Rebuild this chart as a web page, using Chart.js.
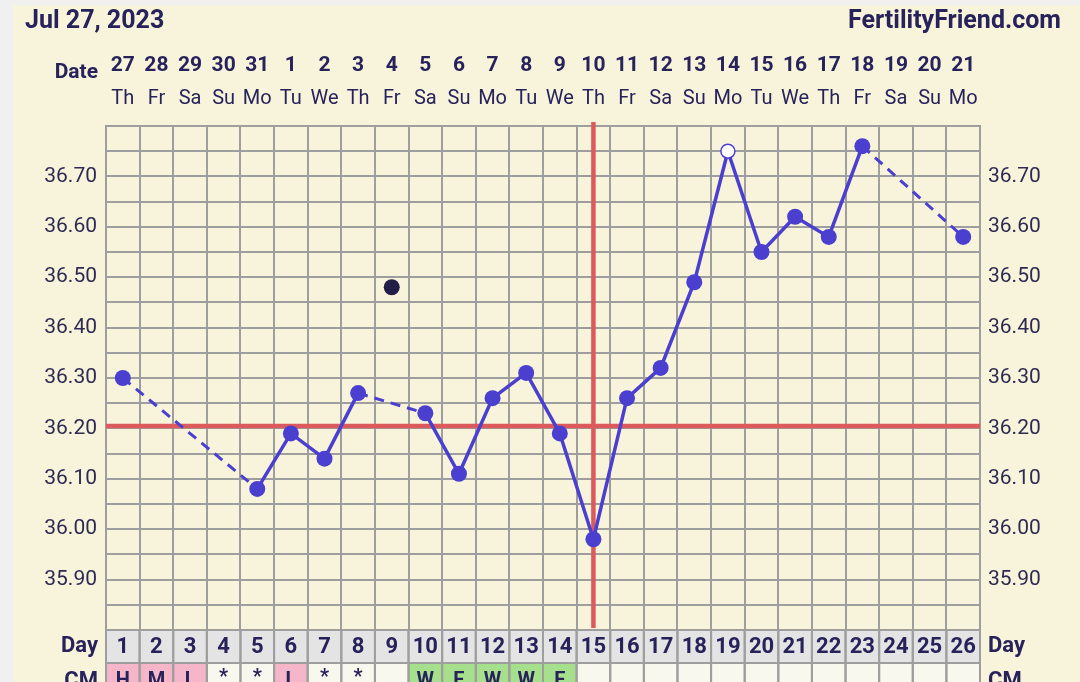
<!DOCTYPE html>
<html><head><meta charset="utf-8">
<script src="https://cdn.jsdelivr.net/npm/chart.js@4/dist/chart.umd.min.js"></script>
<style>html,body{margin:0;padding:0;background:#f0f0f0;}canvas{display:block;}</style>
</head><body>
<canvas id="c" width="1080" height="682"></canvas>
<script>
const cycleDays = ['1','2','3','4','5','6','7','8','9','10','11','12','13','14','15','16','17','18','19','20','21','22','23','24','25','26'];
const dates = ['27','28','29','30','31','1','2','3','4','5','6','7','8','9','10','11','12','13','14','15','16','17','18','19','20','21'];
const weekdays = ['Th','Fr','Sa','Su','Mo','Tu','We','Th','Fr','Sa','Su','Mo','Tu','We','Th','Fr','Sa','Su','Mo','Tu','We','Th','Fr','Sa','Su','Mo'];
const temps = [36.30,null,null,null,36.08,36.19,36.14,36.27,null,36.23,36.11,36.26,36.31,36.19,35.98,36.26,36.32,36.49,36.75,36.55,36.62,36.58,36.76,null,null,36.58];
const excludedTemps = [null,null,null,null,null,null,null,null,36.48,null,null,null,null,null,null,null,null,null,null,null,null,null,null,null,null,null];
const cervicalMucus = ['H','M','L','*','*','L','*','*','','W','E','W','W','E','','','','','','','','','','','',''];
const openPointDays = ['19'];
const coverline = 36.205;
const ovulationDay = '15';
const titleDate = 'Jul 27, 2023';
const siteName = 'FertilityFriend.com';

const NAVY = '#27225a';
const BLUE = '#4a3fcf';
const RED = '#dc5a5c';
const GRID = '#9e9e9e';
const CREAM = '#f8f4dc';

const cmColor = v => (v === 'H' || v === 'M' || v === 'L') ? '#f4b6c8' : (v === 'W' || v === 'E') ? '#a6e08c' : '#f9f8ef';
const isGap = c => !!(c.p0.skip || c.p1.skip);

const decor = {
  id: 'decor',
  beforeDraw(chart) {
    const ctx = chart.ctx;
    ctx.save();
    ctx.fillStyle = '#f0f0f0';
    ctx.fillRect(0, 0, chart.width, chart.height);
    ctx.fillStyle = CREAM;
    ctx.fillRect(13, 5, chart.width - 13, chart.height - 5);
    ctx.restore();
  },
  beforeDatasetsDraw(chart) {
    const ctx = chart.ctx, x = chart.scales.x, y = chart.scales.y, a = chart.chartArea;
    ctx.save();
    ctx.strokeStyle = RED;
    ctx.lineWidth = 4.5;
    const cy = y.getPixelForValue(coverline);
    ctx.beginPath(); ctx.moveTo(a.left, cy); ctx.lineTo(a.right, cy); ctx.stroke();
    const ox = x.getPixelForValue(cycleDays.indexOf(ovulationDay));
    ctx.beginPath(); ctx.moveTo(ox, a.top - 4); ctx.lineTo(ox, a.bottom - 2); ctx.stroke();
    ctx.restore();
  },
  afterDraw(chart) {
    const ctx = chart.ctx, x = chart.scales.x, a = chart.chartArea;
    const w = (a.right - a.left) / cycleDays.length;
    ctx.save();
    ctx.fillStyle = NAVY;
    ctx.textBaseline = 'middle';
    ctx.font = 'bold 25px Roboto';
    ctx.textAlign = 'left';
    ctx.fillText(titleDate, 25, 22);
    ctx.textAlign = 'right';
    ctx.fillText(siteName, 1061, 22);
    ctx.font = 'bold 21px Roboto';
    ctx.textAlign = 'right';
    ctx.fillText('Date', 98, 73);
    ctx.textAlign = 'center';
    dates.forEach((d, i) => ctx.fillText(d, x.getPixelForValue(i), 66));
    ctx.font = '20px Roboto';
    weekdays.forEach((d, i) => ctx.fillText(d, x.getPixelForValue(i), 99));
    const dayTop = a.bottom, dayH = 33;
    const cmTop = dayTop + dayH;
    cycleDays.forEach((d, i) => {
      const cx = x.getPixelForValue(i);
      ctx.fillStyle = '#e4e4e4';
      ctx.fillRect(cx - w / 2, dayTop, w, dayH);
      ctx.fillStyle = cmColor(cervicalMucus[i]);
      ctx.fillRect(cx - w / 2, cmTop, w, 40);
    });
    ctx.strokeStyle = GRID;
    ctx.lineWidth = 2;
    cycleDays.forEach((d, i) => {
      const cx = x.getPixelForValue(i);
      ctx.strokeRect(cx - w / 2, dayTop, w, dayH);
      ctx.strokeRect(cx - w / 2, cmTop, w, 40);
    });
    ctx.fillStyle = NAVY;
    ctx.font = 'bold 22px Roboto';
    ctx.textAlign = 'center';
    cycleDays.forEach((d, i) => ctx.fillText(d, x.getPixelForValue(i), dayTop + 17));
    ctx.font = 'bold 20px Roboto';
    ctx.textBaseline = 'top';
    cervicalMucus.forEach((d, i) => { if (d) ctx.fillText(d, x.getPixelForValue(i), cmTop + (d === '*' ? 5 : 8)); });
    ctx.textBaseline = 'middle';
    ctx.font = 'bold 22px Roboto';
    ctx.textAlign = 'right';
    ctx.fillText('Day', 98, dayTop + 16);
    ctx.textAlign = 'left';
    ctx.fillText('Day', 988, dayTop + 16);
    ctx.textBaseline = 'top';
    ctx.textAlign = 'right';
    ctx.fillText('CM', 98, cmTop + 7);
    ctx.textAlign = 'left';
    ctx.fillText('CM', 988, cmTop + 7);
    ctx.restore();
  }
};

const tickCb = v => {
  const r = Math.round(v * 100);
  return (r % 10 === 0 && r > 3580 && r < 3680) ? (r / 100).toFixed(2) : '';
};

new Chart(document.getElementById('c'), {
  type: 'line',
  data: {
    labels: cycleDays,
    datasets: [
      {
        data: temps,
        borderColor: BLUE,
        borderWidth: 3.5,
        spanGaps: true,
        pointRadius: cycleDays.map(d => openPointDays.includes(d) ? 7 : 8),
        pointBackgroundColor: cycleDays.map(d => openPointDays.includes(d) ? '#ffffff' : BLUE),
        pointBorderColor: BLUE,
        pointBorderWidth: cycleDays.map(d => openPointDays.includes(d) ? 1.5 : 0),
        segment: {
          borderDash: c => isGap(c) ? [10, 7] : [],
          borderWidth: c => isGap(c) ? 3 : 3.5
        }
      },
      {
        data: excludedTemps,
        showLine: false,
        pointRadius: 8,
        pointBackgroundColor: '#221e45',
        pointBorderWidth: 0
      }
    ]
  },
  plugins: [decor],
  options: {
    responsive: false,
    animation: false,
    devicePixelRatio: 1,
    layout: { padding: { left: 0, right: 0, top: 126, bottom: 52 } },
    plugins: { legend: { display: false }, tooltip: { enabled: false } },
    scales: {
      x: {
        type: 'category',
        offset: true,
        grid: { color: GRID, lineWidth: 2, offset: true, drawTicks: false },
        border: { color: GRID, width: 2 },
        ticks: { display: false },
        afterFit: s => { s.height = 0; }
      },
      y: {
        position: 'left',
        min: 35.8, max: 36.8,
        ticks: { stepSize: 0.05, callback: tickCb, color: '#2e2a52', font: { family: 'Roboto', size: 21 }, padding: 9, autoSkip: false },
        grid: { color: GRID, lineWidth: 2, drawTicks: false },
        border: { color: GRID, width: 2 },
        afterFit: s => { s.width = 106; }
      },
      y2: {
        position: 'right',
        min: 35.8, max: 36.8,
        ticks: { stepSize: 0.05, callback: tickCb, color: '#2e2a52', font: { family: 'Roboto', size: 21 }, padding: 8, autoSkip: false },
        grid: { display: false, drawTicks: false },
        border: { color: GRID, width: 2 },
        afterFit: s => { s.width = 100; }
      }
    }
  }
});
</script>
</body></html>
